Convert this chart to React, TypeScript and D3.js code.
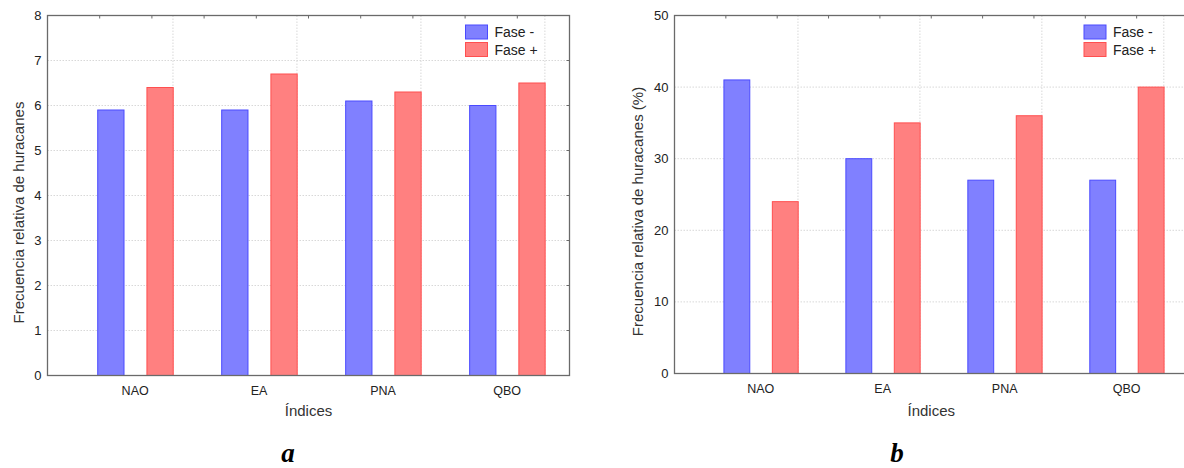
import React from "react";
import * as d3 from "d3";

// data
const categories = ["NAO", "EA", "PNA", "QBO"];
const seriesNames = ["Fase -", "Fase +"];
const panelAMinus = [5.9, 5.9, 6.1, 6.0];
const panelAPlus = [6.4, 6.7, 6.3, 6.5];
const panelBMinus = [41, 30, 27, 27];
const panelBPlus = [24, 35, 36, 40];
const panelATicks = [0, 1, 2, 3, 4, 5, 6, 7, 8];
const panelBTicks = [0, 10, 20, 30, 40, 50];

const FILL = ["#8080ff", "#ff8080"];
const STROKE = ["#4a4aff", "#ff4f4f"];
const FRAME = "#6a6a6a";
const GRID = "#d8d8d8";
const FONT = "Liberation Sans, Arial, sans-serif";

type PanelProps = {
  left: number;
  top: number;
  right: number;
  bottom: number;
  yMax: number;
  yTicks: number[];
  minus: number[];
  plus: number[];
  yTitle: string;
  titleGap: number;
  letter: string;
  letterX: number;
};

function Panel(props: PanelProps) {
  const { left, top, right, bottom, yMax, yTicks, minus, plus, yTitle, titleGap, letter, letterX } = props;
  const w = right - left;

  const y = d3.scaleLinear().domain([0, yMax]).range([bottom, top]);
  // each category gets a slot, slot edges carry the vertical grid
  const x = d3
    .scaleBand()
    .domain(categories)
    .range([left + 1.5, left + 1.5 + 0.95 * w])
    .padding(0);
  const bw = x.bandwidth();
  const topTicks = d3.scaleLinear().domain([0, 10]).range([left, right]);

  const series = [minus, plus];
  const barStart = [0.393, 0.79];
  const barW = 0.212 * bw;

  return (
    <g>
      {/* horizontal grid */}
      {yTicks.slice(1, -1).map((t) => (
        <line key={"h" + t} x1={left} x2={right} y1={y(t)} y2={y(t)} stroke={GRID} strokeDasharray="1.5,1.5" />
      ))}
      {/* vertical grid */}
      {categories.map((c) => (
        <line
          key={"v" + c}
          x1={(x(c) as number) + bw}
          x2={(x(c) as number) + bw}
          y1={top}
          y2={bottom}
          stroke={GRID}
          strokeDasharray="1.5,1.5"
        />
      ))}

      {/* bars */}
      {series.map((vals, s) =>
        vals.map((v, i) => (
          <rect
            key={s + "-" + i}
            x={(x(categories[i]) as number) + barStart[s] * bw}
            y={y(v)}
            width={barW}
            height={bottom - y(v)}
            fill={FILL[s]}
            stroke={STROKE[s]}
            strokeWidth={1}
          />
        ))
      )}

      {/* frame */}
      <rect x={left} y={top} width={w} height={bottom - top} fill="none" stroke={FRAME} strokeWidth={1.3} />

      {/* small ticks on top and right */}
      {topTicks.ticks(10).slice(1, -1).map((t) => (
        <line key={"tt" + t} x1={topTicks(t)} x2={topTicks(t)} y1={top} y2={top + 3} stroke={FRAME} />
      ))}
      {yTicks.slice(1, -1).map((t) => (
        <line key={"rt" + t} x1={right} x2={right - 3} y1={y(t)} y2={y(t)} stroke={FRAME} />
      ))}

      {/* y tick labels */}
      {yTicks.map((t) => (
        <text
          key={"yl" + t}
          x={left - 6}
          y={y(t)}
          dy="0.35em"
          textAnchor="end"
          fontFamily={FONT}
          fontSize={13}
          fill="#222"
        >
          {t}
        </text>
      ))}

      {/* category labels */}
      {categories.map((c) => (
        <text
          key={"xl" + c}
          x={(x(c) as number) + 0.695 * bw}
          y={bottom + 19}
          textAnchor="middle"
          fontFamily={FONT}
          fontSize={12.5}
          fill="#222"
        >
          {c}
        </text>
      ))}

      {/* axis titles */}
      <text
        transform={`translate(${left - titleGap},${(top + bottom) / 2 + 17}) rotate(-90)`}
        textAnchor="middle"
        fontFamily={FONT}
        fontSize={15}
        fill="#333"
      >
        {yTitle}
      </text>
      <text x={(left + right) / 2} y={416} textAnchor="middle" fontFamily={FONT} fontSize={15} fill="#333">
        Índices
      </text>

      {/* legend */}
      {seriesNames.map((n, s) => (
        <g key={n} transform={`translate(${right - 104},${top + 9.5 + s * 17.5})`}>
          <rect width={22} height={14} fill={FILL[s]} stroke={STROKE[s]} />
          <text x={29} y={7} dy="0.36em" fontFamily={FONT} fontSize={14} fill="#222">
            {n}
          </text>
        </g>
      ))}

      {/* panel letter */}
      <text
        x={letterX}
        y={462}
        textAnchor="middle"
        fontFamily="Liberation Serif, Times New Roman, serif"
        fontStyle="italic"
        fontWeight="bold"
        fontSize={27}
        fill="#000"
      >
        {letter}
      </text>
    </g>
  );
}

export default function App() {
  return (
    <div style={{ position: "absolute", left: 0, top: 0 }}>
      <svg width={1184} height={468} style={{ display: "block", background: "#fff" }}>
        <Panel
          left={47.5}
          top={15.5}
          right={569.5}
          bottom={375.5}
          yMax={8}
          yTicks={panelATicks}
          minus={panelAMinus}
          plus={panelAPlus}
          yTitle="Frecuencia relativa de huracanes"
          titleGap={24}
          letter="a"
          letterX={288}
        />
        <Panel
          left={674.5}
          top={15.5}
          right={1188}
          bottom={373.5}
          yMax={50}
          yTicks={panelBTicks}
          minus={panelBMinus}
          plus={panelBPlus}
          yTitle="Frecuencia relativa de huracanes (%)"
          titleGap={32}
          letter="b"
          letterX={897}
        />
      </svg>
    </div>
  );
}
